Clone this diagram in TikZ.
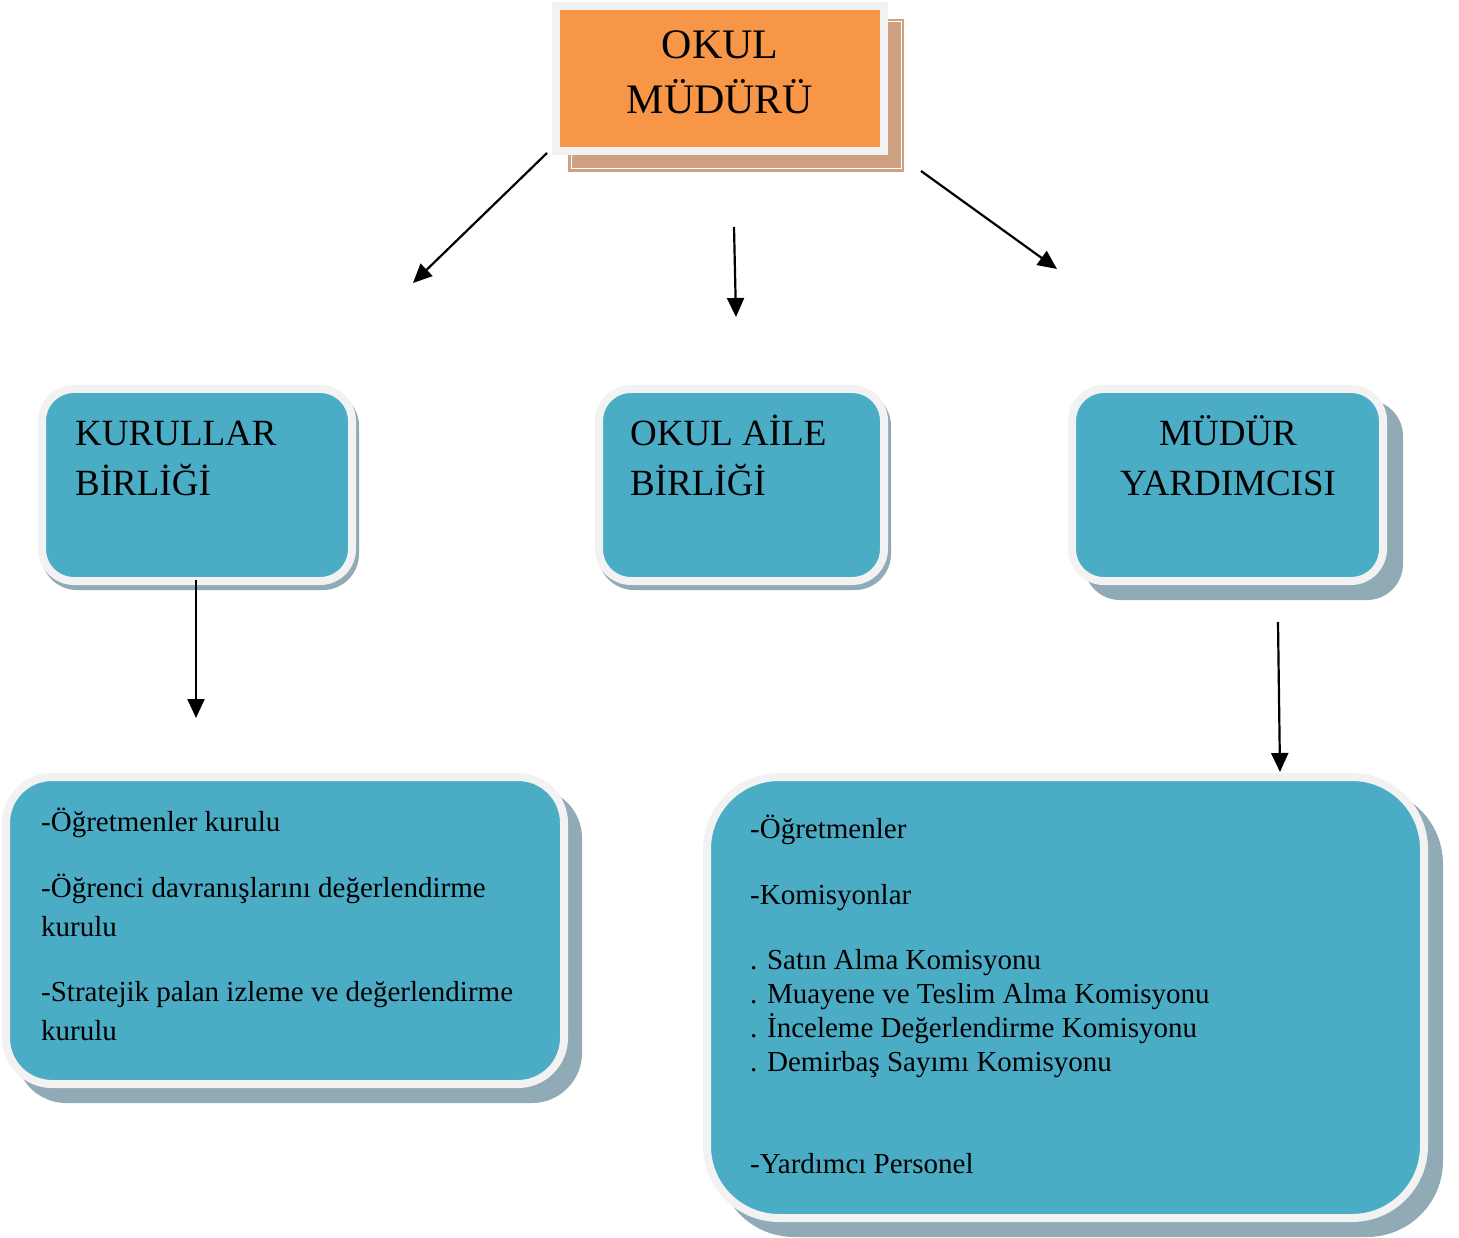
\documentclass[tikz,border=0pt]{standalone}
\usepackage{fontspec}
\setmainfont{Liberation Serif}
\usetikzlibrary{arrows.meta,backgrounds}
\definecolor{framegray}{HTML}{F2F2F2}
\definecolor{boxblue}{HTML}{4BACC6}
\definecolor{shadowgray}{HTML}{90ABB5}
\definecolor{boxorange}{HTML}{F79646}
\definecolor{shadowtan}{HTML}{CDA07F}
\begin{document}
\begin{tikzpicture}[x=1pt,y=-1pt,
  bluebox/.style={draw=framegray, line width=8pt, fill=boxblue, inner sep=0pt},
  orangebox/.style={draw=framegray, line width=8pt, fill=boxorange, inner sep=0pt},
  bigtxt/.style={inner sep=0pt, font=\fontsize{42}{55}\selectfont, align=center},
  midtxt/.style={anchor=base west, inner sep=0pt, font=\fontsize{37}{50}\selectfont},
  midctxt/.style={anchor=base, inner sep=0pt, font=\fontsize{37}{50}\selectfont},
  smalltxt/.style={anchor=base west, inner sep=0pt, font=\fontsize{29}{34}\selectfont},
  arr/.style={line width=2.2pt, -{Triangle[length=19pt,width=17pt]}}
]
\useasboundingbox (0,0) rectangle (1459,1238);

% boxes
\node[orangebox, minimum width=328pt, minimum height=145pt] (top) at (720,78.5) {};
\node[bluebox, rounded corners=32pt, minimum width=310pt, minimum height=192pt] (kur) at (197,485) {};
\node[bluebox, rounded corners=32pt, minimum width=285pt, minimum height=192pt] (aile) at (741.5,485) {};
\node[bluebox, rounded corners=32pt, minimum width=311pt, minimum height=192pt] (myrd) at (1227.5,485) {};
\node[bluebox, rounded corners=46pt, minimum width=558pt, minimum height=307pt] (bl) at (285,930.5) {};
\node[bluebox, rounded corners=72pt, minimum width=717pt, minimum height=441pt] (br) at (1065.5,997.5) {};

% shadows
\begin{scope}[on background layer]
  \fill[shadowtan] ([shift={(16,17)}]top.north west) rectangle ([shift={(16,17)}]top.south east);
  \draw[white, line width=1pt] ([shift={(19,20)}]top.north west) rectangle ([shift={(13,14)}]top.south east);
  \fill[shadowgray, rounded corners=36pt] ([shift={(3,5)}]kur.north west) rectangle ([shift={(3,5)}]kur.south east);
  \fill[shadowgray, rounded corners=36pt] ([shift={(3,5)}]aile.north west) rectangle ([shift={(3,5)}]aile.south east);
  \fill[shadowgray, rounded corners=36pt] ([shift={(16,15)}]myrd.north west) rectangle ([shift={(16,15)}]myrd.south east);
  \fill[shadowgray, rounded corners=50pt] ([shift={(14,15)}]bl.north west) rectangle ([shift={(14,15)}]bl.south east);
  \fill[shadowgray, rounded corners=76pt] ([shift={(15,15)}]br.north west) rectangle ([shift={(15,15)}]br.south east);
\end{scope}

% texts
\node[bigtxt] (toptxt) at (720,72) {OKUL\\MÜDÜRÜ};
\node[midtxt] (kur1) at (75,445) {KURULLAR};
\node[midtxt] (kur2) at (75,495) {BİRLİĞİ};
\node[midtxt] (aile1) at (630,445) {OKUL AİLE};
\node[midtxt] (aile2) at (630,495) {BİRLİĞİ};
\node[midctxt] (myrd1) at (1228,445) {MÜDÜR};
\node[midctxt] (myrd2) at (1228,495) {YARDIMCISI};

\node[smalltxt] (bl1) at (41,831) {-Öğretmenler kurulu};
\node[smalltxt] (bl2) at (41,897) {-Öğrenci davranışlarını değerlendirme};
\node[smalltxt] (bl3) at (41,936) {kurulu};
\node[smalltxt] (bl4) at (41,1001) {-Stratejik palan izleme ve değerlendirme};
\node[smalltxt] (bl5) at (41,1040) {kurulu};

\node[smalltxt] (br1) at (750,838) {-Öğretmenler};
\node[smalltxt] (br2) at (750,904) {-Komisyonlar};
\node[smalltxt] (br3) at (750,969) {. Satın Alma Komisyonu};
\node[smalltxt] (br4) at (750,1003) {. Muayene ve Teslim Alma Komisyonu};
\node[smalltxt] (br5) at (750,1037) {. İnceleme Değerlendirme Komisyonu};
\node[smalltxt] (br6) at (750,1071) {. Demirbaş Sayımı Komisyonu};
\node[smalltxt] (br7) at (750,1173) {-Yardımcı Personel};

% arrows
\coordinate (a1s) at (547,153); \coordinate (a1e) at (413,283);
\coordinate (a2s) at (734,227); \coordinate (a2e) at (736,317);
\coordinate (a3s) at (921,171); \coordinate (a3e) at (1057,269);
\coordinate (a4s) at (196,580); \coordinate (a4e) at (196,718);
\coordinate (a5s) at (1278,622); \coordinate (a5e) at (1280,772);
\draw[arr] (a1s) -- (a1e);
\draw[arr] (a2s) -- (a2e);
\draw[arr] (a3s) -- (a3e);
\draw[arr] (a4s) -- (a4e);
\draw[arr] (a5s) -- (a5e);
\end{tikzpicture}
\end{document}
